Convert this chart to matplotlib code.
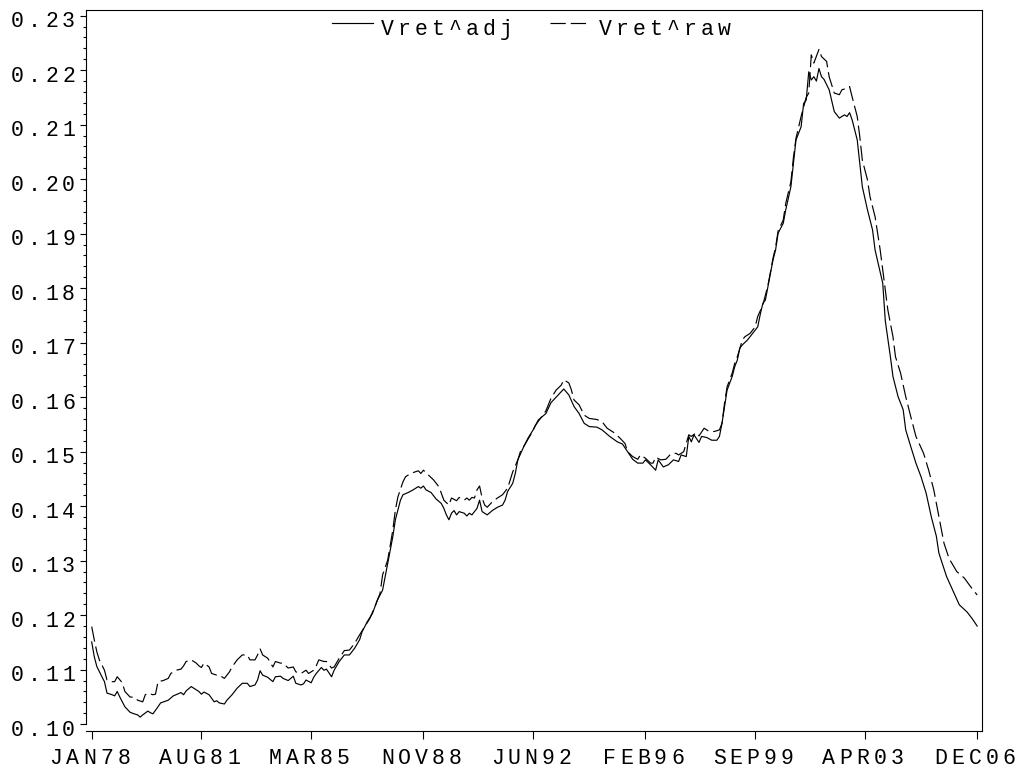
import numpy as np
import matplotlib
matplotlib.use("Agg")
import matplotlib.pyplot as plt
from matplotlib.transforms import offset_copy, blended_transform_factory
from matplotlib.lines import Line2D

plt.rcParams['font.family'] = ['Liberation Mono', 'DejaVu Sans Mono']
plt.rcParams['lines.scale_dashes'] = False

# months counted from JAN78
adj_month = [0, 1, 2, 4, 5, 6, 8, 9, 10, 11, 13, 15, 16, 18, 19, 20, 22, 23, 24, 26,
             27, 30, 32, 33, 35, 36, 37, 39, 40, 42, 43, 44, 46, 48, 49, 50, 52, 53, 55, 57,
             59, 61, 62, 64, 65, 66, 67, 69, 71, 72, 74, 75, 77, 79, 80, 82, 83, 84, 86, 87,
             88, 90, 91, 92, 94, 95, 97, 99, 101, 103, 105, 106, 108, 110, 112, 114, 115, 116, 118, 119,
             120, 121, 122, 124, 126, 128, 129, 130, 131, 133, 135, 137, 138, 139, 140, 141, 142, 143, 144, 146,
             147, 148, 149, 151, 152, 153, 154, 155, 157, 159, 161, 162, 163, 165, 166, 167, 169, 171, 173, 175,
             178, 180, 183, 185, 187, 189, 191, 193, 195, 198, 200, 203, 206, 208, 210, 212, 214, 216, 217, 219,
             221, 222, 224, 226, 228, 230, 231, 233, 234, 235, 236, 238, 239, 241, 243, 245, 246, 247, 248, 249,
             251, 252, 253, 254, 255, 257, 259, 261, 262, 263, 264, 265, 267, 268, 269, 271, 272, 274, 275, 276,
             278, 279, 280, 281, 282, 283, 284, 285, 286, 287, 289, 291, 293, 295, 296, 297, 298, 300, 301, 302,
             304, 306, 307, 310, 311, 313, 314, 316, 318, 319, 321, 323, 325, 327, 329, 331, 332, 335, 338, 340,
             343, 345, 347]
adj_value = [0.1151, 0.1124, 0.1106, 0.1087, 0.1078, 0.1057, 0.1054, 0.1052, 0.1060, 0.1050,
             0.1032, 0.1022, 0.1020, 0.1017, 0.1013, 0.1017, 0.1024, 0.1021, 0.1019, 0.1032,
             0.1039, 0.1044, 0.1052, 0.1054, 0.1058, 0.1054, 0.1061, 0.1069, 0.1066, 0.1060,
             0.1055, 0.1059, 0.1054, 0.1041, 0.1043, 0.1039, 0.1037, 0.1044, 0.1054, 0.1066,
             0.1075, 0.1075, 0.1069, 0.1072, 0.1081, 0.1098, 0.1090, 0.1086, 0.1078, 0.1087,
             0.1088, 0.1084, 0.1080, 0.1088, 0.1075, 0.1072, 0.1074, 0.1081, 0.1076, 0.1086,
             0.1093, 0.1104, 0.1099, 0.1101, 0.1087, 0.1099, 0.1115, 0.1127, 0.1127, 0.1139,
             0.1155, 0.1170, 0.1188, 0.1203, 0.1228, 0.1246, 0.1271, 0.1295, 0.1344, 0.1375,
             0.1393, 0.1411, 0.1421, 0.1425, 0.1430, 0.1436, 0.1433, 0.1437, 0.1430, 0.1425,
             0.1413, 0.1405, 0.1396, 0.1384, 0.1375, 0.1387, 0.1392, 0.1384, 0.1390, 0.1387,
             0.1382, 0.1387, 0.1384, 0.1396, 0.1411, 0.1390, 0.1387, 0.1384, 0.1392, 0.1398,
             0.1402, 0.1411, 0.1427, 0.1442, 0.1460, 0.1485, 0.1506, 0.1525, 0.1540, 0.1558,
             0.1570, 0.1590, 0.1605, 0.1615, 0.1604, 0.1583, 0.1570, 0.1552, 0.1546, 0.1545,
             0.1540, 0.1528, 0.1518, 0.1514, 0.1500, 0.1486, 0.1479, 0.1479, 0.1485, 0.1476,
             0.1466, 0.1485, 0.1472, 0.1476, 0.1485, 0.1482, 0.1494, 0.1491, 0.1528, 0.1518,
             0.1531, 0.1517, 0.1528, 0.1526, 0.1521, 0.1521, 0.1528, 0.1552, 0.1583, 0.1613,
             0.1638, 0.1656, 0.1668, 0.1690, 0.1696, 0.1705, 0.1717, 0.1729, 0.1752, 0.1772,
             0.1778, 0.1803, 0.1852, 0.1870, 0.1901, 0.1919, 0.1944, 0.1986, 0.2029, 0.2072,
             0.2096, 0.2139, 0.2145, 0.2197, 0.2182, 0.2188, 0.2180, 0.2203, 0.2188, 0.2183,
             0.2164, 0.2124, 0.2112, 0.2118, 0.2115, 0.2122, 0.2109, 0.2072, 0.2029, 0.1986,
             0.1944, 0.1907, 0.1870, 0.1809, 0.1740, 0.1674, 0.1638, 0.1601, 0.1577, 0.1540,
             0.1509, 0.1479, 0.1454, 0.1424, 0.1381, 0.1345, 0.1314, 0.1271, 0.1240, 0.1219,
             0.1206, 0.1194, 0.1180]

raw_month = [0, 1, 2, 3, 5, 6, 8, 9, 10, 12, 13, 15, 17, 18, 20, 21, 22, 24, 25, 26,
             28, 30, 31, 33, 35, 36, 37, 39, 41, 42, 43, 44, 46, 47, 49, 50, 52, 54, 55, 57,
             59, 61, 62, 64, 65, 66, 67, 69, 71, 72, 74, 75, 77, 79, 80, 82, 84, 85, 87, 88,
             89, 91, 92, 94, 95, 97, 99, 101, 103, 105, 107, 109, 111, 113, 114, 116, 118, 119, 120, 122,
             123, 125, 128, 129, 130, 132, 134, 136, 137, 138, 140, 141, 143, 144, 146, 147, 148, 149, 150, 151,
             152, 153, 154, 155, 157, 159, 161, 163, 164, 165, 167, 168, 170, 172, 174, 178, 180, 182, 184, 185,
             187, 188, 189, 191, 193, 195, 198, 200, 202, 205, 207, 209, 210, 212, 214, 215, 217, 219, 220, 221,
             223, 225, 227, 229, 230, 232, 234, 235, 237, 238, 240, 242, 244, 246, 247, 248, 249, 251, 252, 253,
             255, 256, 258, 260, 261, 263, 265, 267, 268, 269, 271, 272, 274, 275, 276, 278, 280, 281, 282, 283,
             285, 286, 288, 289, 291, 293, 294, 296, 297, 298, 300, 301, 302, 304, 305, 307, 309, 310, 312, 314,
             315, 317, 319, 321, 323, 326, 328, 330, 332, 333, 334, 336, 339, 342, 344, 347]
raw_value = [0.1179, 0.1155, 0.1133, 0.1118, 0.1099, 0.1081, 0.1078, 0.1078, 0.1087, 0.1076,
             0.1060, 0.1050, 0.1049, 0.1044, 0.1041, 0.1054, 0.1057, 0.1054, 0.1055, 0.1078,
             0.1080, 0.1084, 0.1093, 0.1099, 0.1101, 0.1107, 0.1115, 0.1118, 0.1112, 0.1107,
             0.1104, 0.1112, 0.1105, 0.1093, 0.1090, 0.1090, 0.1084, 0.1096, 0.1105, 0.1118,
             0.1127, 0.1127, 0.1118, 0.1118, 0.1127, 0.1138, 0.1127, 0.1121, 0.1105, 0.1115,
             0.1112, 0.1112, 0.1103, 0.1105, 0.1096, 0.1093, 0.1099, 0.1093, 0.1099, 0.1107,
             0.1118, 0.1115, 0.1115, 0.1103, 0.1105, 0.1121, 0.1135, 0.1136, 0.1148, 0.1164,
             0.1179, 0.1194, 0.1216, 0.1240, 0.1274, 0.1301, 0.1356, 0.1393, 0.1417, 0.1445,
             0.1454, 0.1460, 0.1465, 0.1460, 0.1466, 0.1457, 0.1448, 0.1436, 0.1424, 0.1411,
             0.1402, 0.1415, 0.1410, 0.1416, 0.1411, 0.1415, 0.1411, 0.1416, 0.1415, 0.1430,
             0.1437, 0.1415, 0.1402, 0.1398, 0.1408, 0.1415, 0.1421, 0.1433, 0.1448, 0.1463,
             0.1485, 0.1500, 0.1515, 0.1531, 0.1549, 0.1575, 0.1598, 0.1613, 0.1622, 0.1632,
             0.1626, 0.1613, 0.1595, 0.1586, 0.1567, 0.1561, 0.1559, 0.1555, 0.1543, 0.1534,
             0.1525, 0.1515, 0.1500, 0.1491, 0.1486, 0.1494, 0.1488, 0.1479, 0.1479, 0.1490,
             0.1485, 0.1486, 0.1496, 0.1497, 0.1494, 0.1500, 0.1531, 0.1528, 0.1535, 0.1529,
             0.1543, 0.1537, 0.1537, 0.1540, 0.1552, 0.1589, 0.1619, 0.1644, 0.1662, 0.1674,
             0.1705, 0.1711, 0.1717, 0.1729, 0.1748, 0.1769, 0.1805, 0.1855, 0.1875, 0.1905,
             0.1925, 0.1956, 0.1995, 0.2040, 0.2075, 0.2115, 0.2150, 0.2158, 0.2228, 0.2213,
             0.2238, 0.2225, 0.2216, 0.2188, 0.2158, 0.2155, 0.2164, 0.2167, 0.2170, 0.2151,
             0.2115, 0.2078, 0.2035, 0.1999, 0.1968, 0.1931, 0.1870, 0.1833, 0.1760, 0.1711,
             0.1674, 0.1644, 0.1601, 0.1564, 0.1528, 0.1497, 0.1466, 0.1430, 0.1381, 0.1356,
             0.1332, 0.1304, 0.1280, 0.1268, 0.1255, 0.1237]

tick_months = [0, 43, 86, 130, 173, 217, 260, 303, 347]
tick_labels = ["JAN78", "AUG81", "MAR85", "NOV88", "JUN92", "FEB96", "SEP99", "APR03", "DEC06"]
y_ticks = np.round(np.arange(0.10, 0.2301, 0.01), 2)
series_names = ["Vret^adj", "Vret^raw"]

PITCH = 17      # pixels between letter centres (SAS style spaced text)
FS = 15.5
DASH = (0, (11, 3.6))

fig = plt.figure(figsize=(10.19, 7.71), dpi=100)
ax = fig.add_axes([0.0844, 0.0519, 0.8793, 0.9352])


def spaced(x, y, s, trans, first_dx=0, dy=0, align='center'):
    # draw s one letter at a time with a fixed pitch
    n = len(s)
    if align == 'center':
        start = first_dx - (n - 1) * PITCH / 2
    elif align == 'right':
        start = first_dx - (n - 1) * PITCH
    else:
        start = first_dx
    for i, ch in enumerate(s):
        t = offset_copy(trans, fig=fig, x=start + i * PITCH, y=dy, units='dots')
        ax.text(x, y, ch, transform=t, ha='center', va='baseline',
                fontsize=FS, color='black', clip_on=False)


ax.plot(adj_month, adj_value, color='black', lw=0.85, solid_joinstyle='round')
ax.plot(raw_month, raw_value, color='black', lw=0.85, linestyle=DASH)

ax.set_xlim(-2.23, 348.9)
ax.set_ylim(0.09875, 0.23105)

for s in ax.spines.values():
    s.set_linewidth(0.8)
    s.set_color('black')
ax.spines['left'].set_bounds(0.10, 0.23105)

ax.set_xticks(tick_months)
ax.set_xticklabels([])
ax.set_yticks(y_ticks)
ax.set_yticklabels([])
ax.set_yticks(np.arange(0.10, 0.2301, 0.002), minor=True)
ax.tick_params(axis='x', direction='out', length=5.5, width=0.8, pad=0)
ax.tick_params(axis='y', which='major', direction='out', length=4, width=0.8)
ax.tick_params(axis='y', which='minor', direction='out', length=2.2, width=0.8)
ax.tick_params(axis='x', which='minor', bottom=False)

xt = blended_transform_factory(ax.transData, ax.transAxes)
for m, lab in zip(tick_months, tick_labels):
    spaced(m, 0, lab, xt, first_dx=-2, dy=-33)

yt = blended_transform_factory(ax.transAxes, ax.transData)
for v in y_ticks:
    spaced(0, v, "%.2f" % v, yt, first_dx=-17.5, dy=-11.5, align='right')

# legend across the top of the frame
ax.add_line(Line2D([0.2746, 0.3203], [0.9816, 0.9816], transform=ax.transAxes,
                   color='black', lw=0.85))
ax.add_line(Line2D([0.5179, 0.5603], [0.9816, 0.9816], transform=ax.transAxes,
                   color='black', lw=0.85, linestyle=DASH))
spaced(0.3359, 0.9653, series_names[0], ax.transAxes, align='left')
spaced(0.5792, 0.9653, series_names[1], ax.transAxes, align='left')

fig.savefig("out.png", dpi=100)
